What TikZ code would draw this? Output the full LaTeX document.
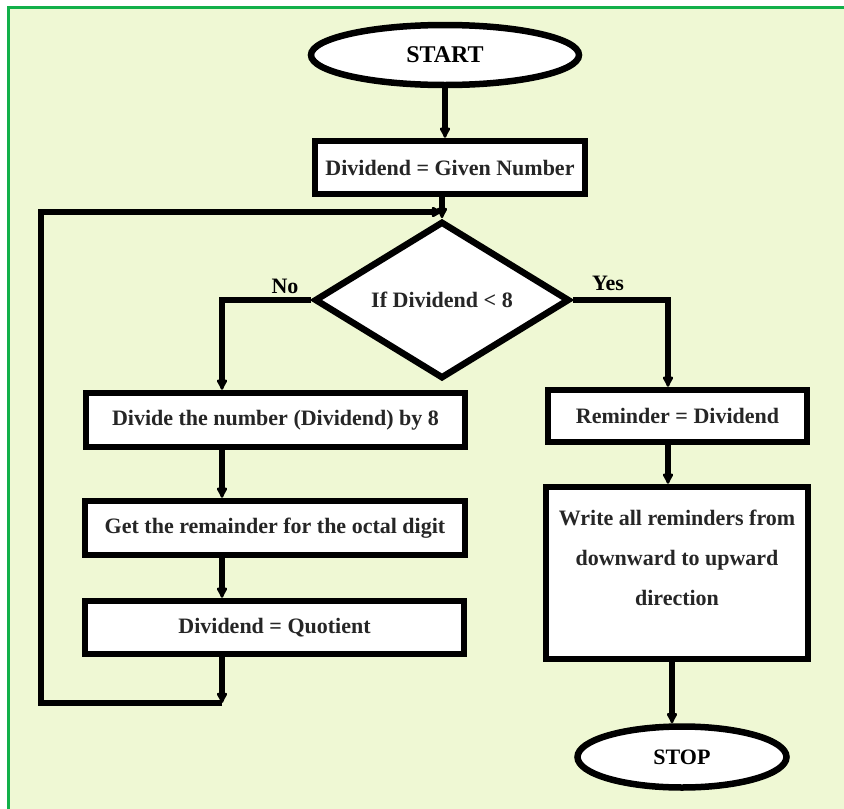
\documentclass[tikz,border=0pt]{standalone}
\usepackage{fontspec}
\setmainfont{Liberation Serif}
\usetikzlibrary{arrows.meta,shapes.geometric}
\definecolor{bgc}{HTML}{EFF8D4}
\definecolor{frm}{HTML}{12B04A}
\definecolor{txt}{HTML}{262626}
\tikzset{
  boxnode/.style={draw=black, line width=6.5pt, fill=white, rectangle, inner sep=0pt,
    text=txt, font=\bfseries\fontsize{22}{40}\selectfont, align=center},
  termnode/.style={draw=black, line width=6.5pt, fill=white, ellipse, inner sep=0pt,
    text=black, font=\bfseries\fontsize{22}{26}\selectfont},
  decnode/.style={draw=black, line width=6.5pt, fill=white, diamond, inner sep=0pt,
    text=txt, font=\bfseries\fontsize{22}{26}\selectfont},
  conn/.style={draw=black, line width=5.5pt, line join=miter},
  arr/.style={conn, -{Latex[length=13pt,width=13pt,round]}},
  lbl/.style={text=black, font=\bfseries\fontsize{22}{26}\selectfont, inner sep=0pt}
}
\begin{document}
\begin{tikzpicture}[x=1pt,y=-1pt]
  \useasboundingbox (0,0) rectangle (844,809);
  % background and frame
  \fill[white] (0,0) rectangle (844,809);
  \fill[bgc] (8,7) rectangle (844,809);
  \draw[frm, line width=3pt] (8,809) -- (8,7) -- (844,7);

  % nodes
  \node[termnode, minimum width=268, minimum height=60,
        font=\bfseries\fontsize{24}{28}\selectfont] (start) at (445,55) {START};
  \node[boxnode, minimum width=270, minimum height=53] (given) at (450,167.5) {Dividend = Given Number};
  \node[decnode, minimum width=255, minimum height=112] (dec) at (442,300) {If Dividend < 8};
  \node[boxnode, minimum width=379, minimum height=54] (divide) at (275.5,420) {Divide the number (Dividend) by 8};
  \node[boxnode, minimum width=380, minimum height=54] (get) at (275,528) {Get the remainder for the octal digit};
  \node[boxnode, minimum width=379, minimum height=53] (quot) at (274.5,627.5) {Dividend = Quotient};
  \node[boxnode, minimum width=259, minimum height=52] (rem) at (677.5,416) {Reminder = Dividend};
  \node[boxnode, minimum width=262, minimum height=172] (write) at (677,573) {};
  \node[text=txt, font=\bfseries\fontsize{22}{40}\selectfont, align=center, inner sep=0pt]
        (writetext) at (677,558) {Write all reminders from\\downward to upward\\direction};
  \node[termnode, minimum width=209, minimum height=61] (stop) at (682,757) {STOP};

  \node[lbl] (nolbl) at (285,286) {No};
  \node[lbl] (yeslbl) at (608,283) {Yes};

  % helper coordinates
  \coordinate (lx) at (222,0);
  \coordinate (rx) at (668,0);
  \coordinate (sx) at (672,0);
  \coordinate (jn) at (442,212);
  \coordinate (lb) at (222,703);
  \coordinate (c1) at (41,703);
  \coordinate (c2) at (41,212);

  % connectors
  \draw[arr] (start.south) -- (start.south |- given.north);
  \draw[arr] (dec.north |- given.south) -- (dec.north);
  \draw[arr] (dec.west) -- (dec.west -| lx) -- (divide.north -| lx);
  \draw[arr] (divide.south -| lx) -- (get.north -| lx);
  \draw[arr] (get.south -| lx) -- (quot.north -| lx);
  \draw[arr] (quot.south -| lx) -- (lb);
  \draw[arr] (lb) -- (c1) -- (c2) -- (jn);
  \draw[arr] (dec.east) -- (dec.east -| rx) -- (rem.north -| rx);
  \draw[arr] (rem.south -| rx) -- (write.north -| rx);
  \draw[arr] (write.south -| sx) -- (stop.north -| sx);
\end{tikzpicture}
\end{document}
